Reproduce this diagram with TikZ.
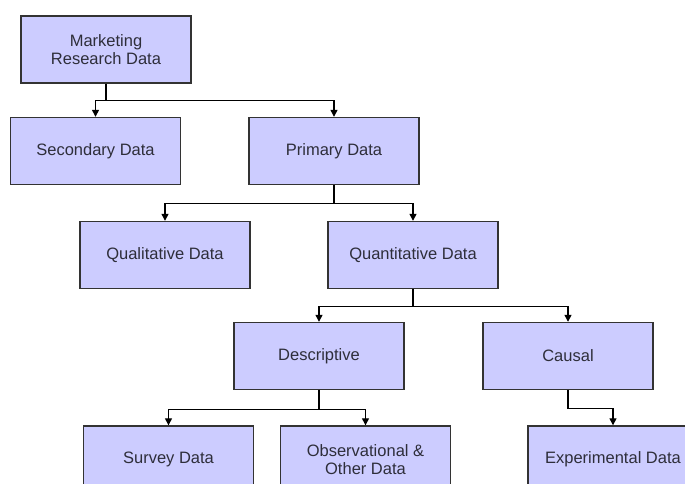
\documentclass[tikz,border=0pt]{standalone}
\usepackage{fontspec}
\setmainfont{Liberation Sans}
\usetikzlibrary{arrows.meta}
\definecolor{boxfill}{HTML}{CCCCFF}
\definecolor{boxline}{HTML}{333333}
\definecolor{txt}{HTML}{2E2E3A}
\begin{document}
\begin{tikzpicture}[x=1pt,y=-1pt,
  box/.style={draw=boxline, fill=boxfill, line width=1.4pt, minimum width=170pt, minimum height=67pt,
    inner sep=0pt, align=center, text=txt, font=\fontsize{16.5}{18.5}\selectfont},
  arr/.style={draw=black, line width=1.3pt, -{Triangle[width=7pt,length=7pt]}}]
\useasboundingbox (0,0) rectangle (685,484);
\clip (0,0) rectangle (685,484);
\node[box] (mrd) at (106,49.5) {Marketing\\Research Data};
\node[box] (sec) at (95.5,151) {Secondary Data};
\node[box] (pri) at (334,151) {Primary Data};
\node[box] (qual) at (165,255) {Qualitative Data};
\node[box] (quant) at (413,255) {Quantitative Data};
\node[box] (desc) at (319,356) {Descriptive};
\node[box] (caus) at (568,356) {Causal};
\node[box] (surv) at (168.5,459.5) {Survey Data};
\node[box] (obs) at (365.5,459.5) {Observational \&\\Other Data};
\node[box] (exp) at (613,459.5) {Experimental Data};
\draw[arr] (mrd.south) -- ++(0,17) -| (sec.north);
\draw[arr] (mrd.south) -- ++(0,17) -| (pri.north);
\draw[arr] (pri.south) -- ++(0,18) -| (qual.north);
\draw[arr] (pri.south) -- ++(0,18) -| (quant.north);
\draw[arr] (quant.south) -- ++(0,17) -| (desc.north);
\draw[arr] (quant.south) -- ++(0,17) -| (caus.north);
\draw[arr] (desc.south) -- ++(0,19) -| (surv.north);
\draw[arr] (desc.south) -- ++(0,19) -| (obs.north);
\draw[arr] (caus.south) -- ++(0,18) -| (exp.north);
\end{tikzpicture}
\end{document}
